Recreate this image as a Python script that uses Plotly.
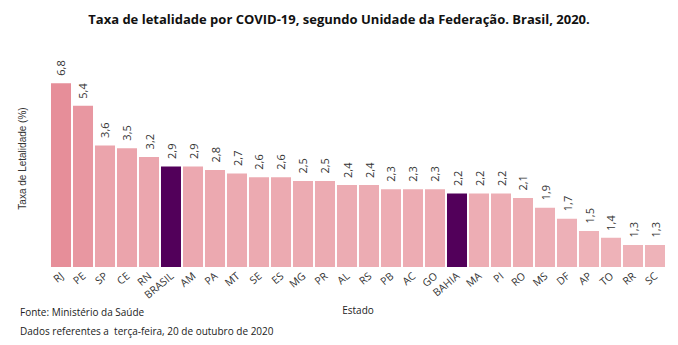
import math
import plotly.graph_objects as go

# Letalidade por UF (%), ordenada de forma decrescente
estados = ["RJ", "PE", "SP", "CE", "RN", "BRASIL", "AM", "PA", "MT", "SE", "ES", "MG",
           "PR", "AL", "RS", "PB", "AC", "GO", "BAHIA", "MA", "PI", "RO", "MS", "DF",
           "AP", "TO", "RR", "SC"]
letalidade = [6.8, 5.4, 3.6, 3.5, 3.2, 2.9, 2.9, 2.8, 2.7, 2.6, 2.6, 2.5,
              2.5, 2.4, 2.4, 2.3, 2.3, 2.3, 2.2, 2.2, 2.2, 2.1, 1.9, 1.7,
              1.5, 1.4, 1.3, 1.3]
destaques = ["BRASIL", "BAHIA"]

FONT = "Open Sans"
ROXO = "#52005A"
ROSA_CLARO = (238, 179, 185)
ROSA_ESCURO = (230, 142, 153)


def cor_barra(estado, valor):
    if estado in destaques:
        return ROXO
    vmin, vmax = min(letalidade), max(letalidade)
    t = (valor - vmin) / (vmax - vmin)
    rgb = [round(a + (b - a) * t) for a, b in zip(ROSA_CLARO, ROSA_ESCURO)]
    return "rgb({},{},{})".format(*rgb)


cores = [cor_barra(e, v) for e, v in zip(estados, letalidade)]
rotulos = [f"{v:.1f}".replace(".", ",") for v in letalidade]

fig = go.Figure(
    go.Bar(
        x=estados,
        y=letalidade,
        marker=dict(color=cores, line=dict(width=0)),
        hoverinfo="x+y",
    )
)

# Rótulos de valor girados acima de cada barra
for e, v, r in zip(estados, letalidade, rotulos):
    fig.add_annotation(
        x=e, y=math.log10(v), text=r, textangle=-90,
        showarrow=False, yanchor="bottom", xanchor="center", yshift=5,
        font=dict(family=FONT, size=11, color="#333333"),
    )

fig.add_annotation(
    xref="paper", yref="paper", x=-0.052, y=-0.165, xanchor="left", yanchor="top",
    text="Fonte: Ministério da Saúde", showarrow=False,
    font=dict(family=FONT, size=10, color="#222222"),
)
fig.add_annotation(
    xref="paper", yref="paper", x=-0.052, y=-0.255, xanchor="left", yanchor="top",
    text="Dados referentes a  terça-feira, 20 de outubro de 2020", showarrow=False,
    font=dict(family=FONT, size=10, color="#222222"),
)

fig.update_layout(
    width=678, height=345,
    margin=dict(l=50, r=12, t=50, b=78),
    paper_bgcolor="white", plot_bgcolor="white",
    bargap=0.09,
    showlegend=False,
    title=dict(
        text="<b>Taxa de letalidade por COVID-19, segundo Unidade da Federação. Brasil, 2020.</b>",
        x=0.5, xanchor="center", y=0.945, yanchor="middle",
        font=dict(family=FONT, size=13, color="#111111"),
    ),
    xaxis=dict(
        tickangle=-40, tickfont=dict(family=FONT, size=10.5, color="#333333"),
        showline=False, ticks="", showgrid=False,
        title=dict(text="Estado", font=dict(family=FONT, size=10, color="#222222"), standoff=6),
    ),
    yaxis=dict(
        type="log", range=[0.016, 0.98],
        showticklabels=False, showgrid=False, zeroline=False, showline=False, ticks="",
        title=dict(text="Taxa de Letalidade (%)",
                   font=dict(family="Liberation Sans", size=10, color="#333333"),
                   standoff=20),
    ),
)

fig.write_html("out.html")
